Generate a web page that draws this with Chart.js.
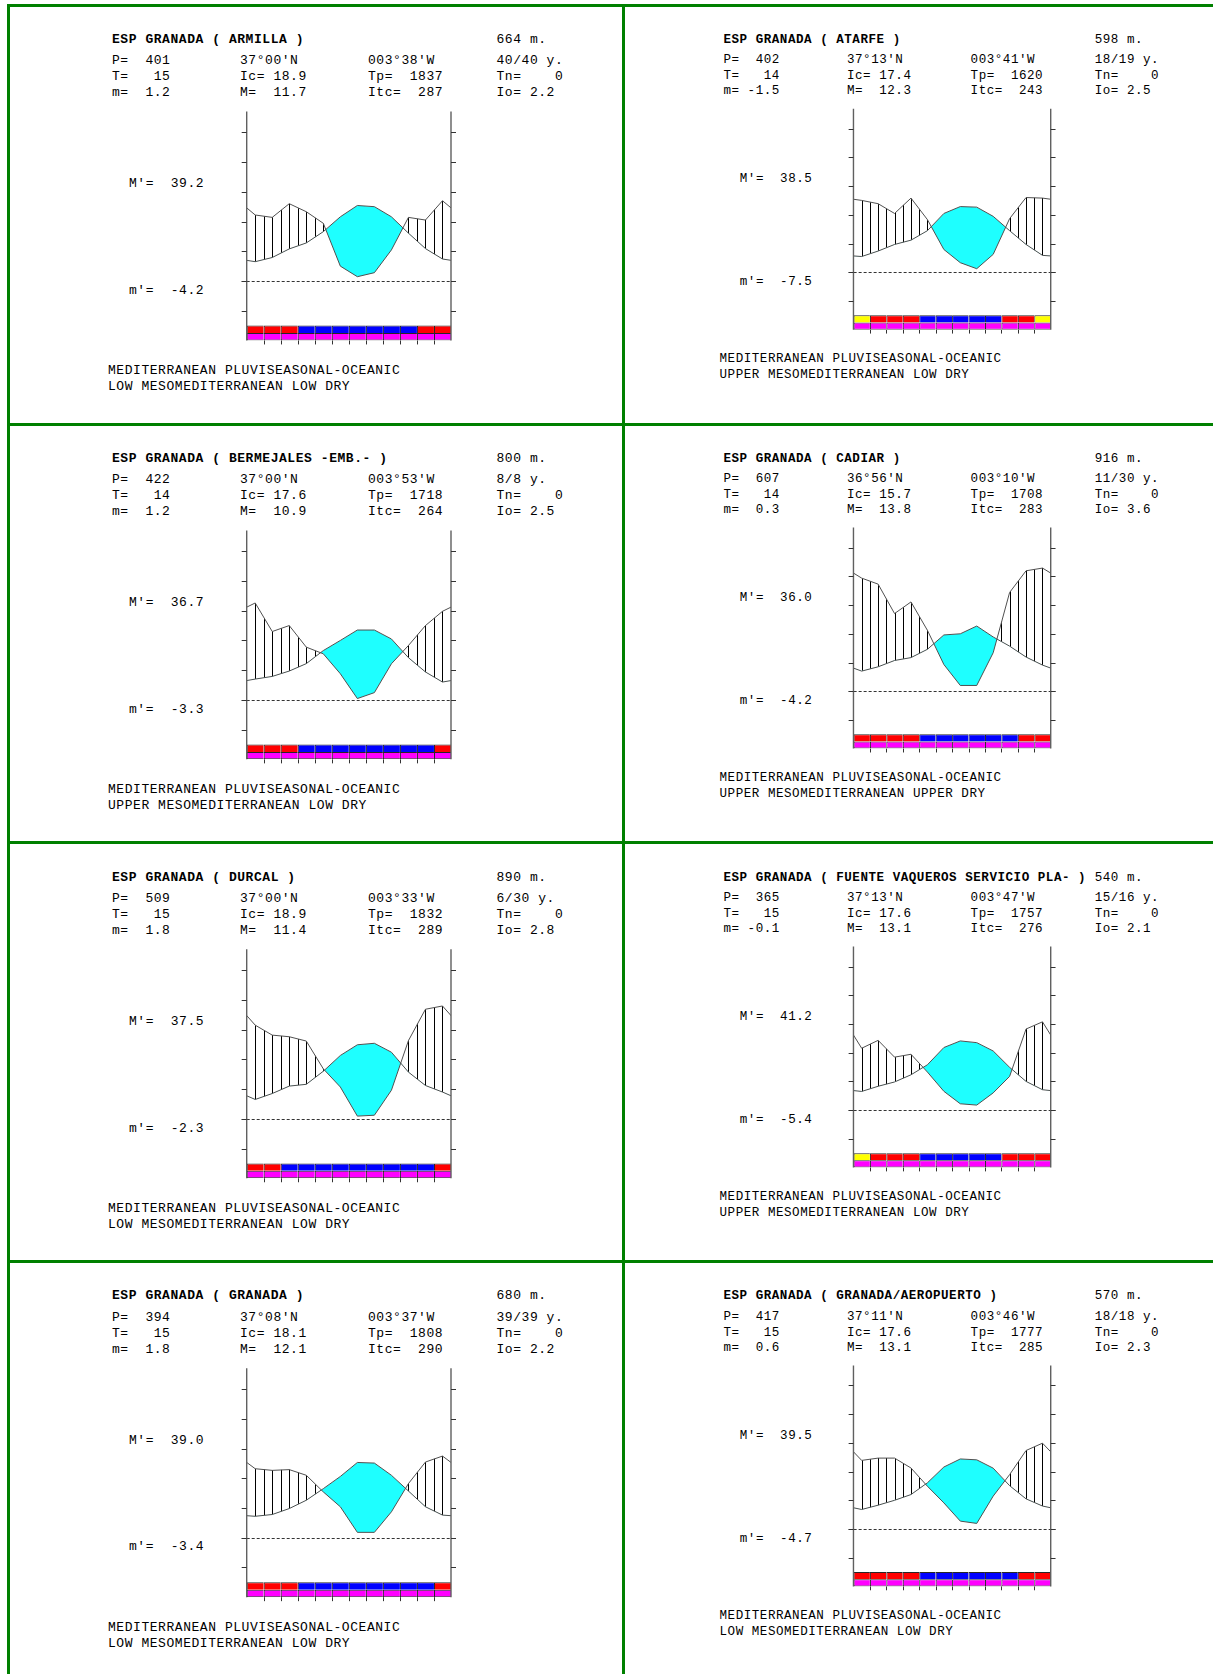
<!DOCTYPE html>
<html>
<head>
<meta charset="utf-8">
<title>Bioclimatic diagrams – Granada</title>
<script src="https://cdn.jsdelivr.net/npm/chart.js@4.4.1/dist/chart.umd.min.js"></script>
<style>
  html, body { margin: 0; padding: 0; background: #fff; }
  body { width: 1213px; height: 1674px; position: relative; overflow: hidden; }
  .rule { position: absolute; background: #008000; }
  .txt { position: absolute; font-family: "Liberation Mono", "DejaVu Sans Mono", monospace; color: #000; white-space: pre; }
  canvas { position: absolute; }
</style>
</head>
<body>
<script>
// ---- Station data ----------------------------------------------------------
const months = ['Jan', 'Feb', 'Mar', 'Apr', 'May', 'Jun', 'Jul', 'Aug', 'Sep', 'Oct', 'Nov', 'Dec'];

const stationNames = ['ARMILLA', 'ATARFE', 'BERMEJALES -EMB.-', 'CADIAR', 'DURCAL',
  'FUENTE VAQUEROS SERVICIO PLA-', 'GRANADA', 'GRANADA/AEROPUERTO'];
const altitudes  = ['664 m.', '598 m.', '800 m.', '916 m.', '890 m.', '540 m.', '680 m.', '570 m.'];
const latitudes  = ["37°00'N", "37°13'N", "37°00'N", "36°56'N", "37°00'N", "37°13'N", "37°08'N", "37°11'N"];
const longitudes = ["003°38'W", "003°41'W", "003°53'W", "003°10'W", "003°33'W", "003°47'W", "003°37'W", "003°46'W"];
const yearSpans  = ['40/40 y.', '18/19 y.', '8/8 y.', '11/30 y.', '6/30 y.', '15/16 y.', '39/39 y.', '18/18 y.'];
const annualP    = ['401', '402', '422', '607', '509', '365', '394', '417'];
const annualT    = ['15', '14', '14', '14', '15', '15', '15', '15'];
const coldMin    = ['1.2', '-1.5', '1.2', '0.3', '1.8', '-0.1', '1.8', '0.6'];      // m
const coldMax    = ['11.7', '12.3', '10.9', '13.8', '11.4', '13.1', '12.1', '13.1'];  // M
const contIdx    = ['18.9', '17.4', '17.6', '15.7', '18.9', '17.6', '18.1', '17.6'];  // Ic
const posTemp    = ['1837', '1620', '1718', '1708', '1832', '1757', '1808', '1777'];  // Tp
const thermIdx   = ['287', '243', '264', '283', '289', '276', '290', '285'];          // Itc
const negTemp    = ['0', '0', '0', '0', '0', '0', '0', '0'];                          // Tn
const ombroIdx   = ['2.2', '2.5', '2.5', '3.6', '2.8', '2.1', '2.2', '2.3'];          // Io
const absMax     = ['39.2', '38.5', '36.7', '36.0', '37.5', '41.2', '39.0', '39.5'];  // M'
const absMin     = ['-4.2', '-7.5', '-3.3', '-4.2', '-2.3', '-5.4', '-3.4', '-4.7'];  // m'
const bioclimate = ['MEDITERRANEAN PLUVISEASONAL-OCEANIC', 'MEDITERRANEAN PLUVISEASONAL-OCEANIC',
  'MEDITERRANEAN PLUVISEASONAL-OCEANIC', 'MEDITERRANEAN PLUVISEASONAL-OCEANIC',
  'MEDITERRANEAN PLUVISEASONAL-OCEANIC', 'MEDITERRANEAN PLUVISEASONAL-OCEANIC',
  'MEDITERRANEAN PLUVISEASONAL-OCEANIC', 'MEDITERRANEAN PLUVISEASONAL-OCEANIC'];
const belts = ['LOW MESOMEDITERRANEAN LOW DRY', 'UPPER MESOMEDITERRANEAN LOW DRY',
  'UPPER MESOMEDITERRANEAN LOW DRY', 'UPPER MESOMEDITERRANEAN UPPER DRY',
  'LOW MESOMEDITERRANEAN LOW DRY', 'UPPER MESOMEDITERRANEAN LOW DRY',
  'LOW MESOMEDITERRANEAN LOW DRY', 'LOW MESOMEDITERRANEAN LOW DRY'];

// Monthly mean temperature (°C), January..December
const tempArmilla    = [6.5, 7.9, 10.8, 12.8, 16.6, 21.6, 25.4, 25.0, 21.6, 16.1, 10.9, 7.4];
const tempAtarfe     = [5.5, 7.4, 9.7, 11.2, 14.5, 20.5, 22.9, 22.7, 19.5, 14.5, 9.7, 5.9];
const tempBermejales = [7.0, 7.9, 9.7, 12.2, 16.6, 20.0, 23.5, 23.5, 20.5, 14.2, 9.4, 6.0];
const tempCadiar     = [7.0, 8.5, 10.7, 11.7, 14.6, 19.6, 20.0, 22.7, 18.9, 15.7, 11.9, 9.1];
const tempDurcal     = [6.5, 8.5, 11.0, 11.6, 16.0, 21.3, 24.9, 25.4, 22.4, 15.7, 11.2, 9.0];
const tempFuente     = [6.5, 8.3, 9.8, 12.3, 15.8, 21.8, 24.1, 23.5, 20.6, 14.9, 10.0, 7.1];
const tempGranada    = [7.2, 7.8, 9.8, 12.6, 16.5, 20.6, 25.3, 25.1, 21.0, 15.7, 10.4, 7.6];
const tempAeropuerto = [6.8, 8.3, 10.0, 12.0, 16.1, 21.6, 24.4, 24.1, 21.2, 15.1, 10.5, 8.0];

// Monthly precipitation (mm), January..December
const precArmilla    = [44.4, 42.8, 52.0, 46.6, 38.8, 10.0, 2.9, 5.6, 20.9, 42.8, 41.0, 54.0];
const precAtarfe     = [50.1, 47.8, 41.0, 51.7, 36.7, 15.9, 6.7, 2.5, 12.5, 37.4, 52.1, 51.7];
const precBermejales = [65.2, 46.0, 50.0, 35.5, 31.0, 17.6, 0.9, 4.9, 24.3, 36.6, 50.0, 59.6];
const precCadiar     = [78.8, 74.6, 54.1, 62.2, 42.4, 18.6, 4.0, 4.0, 26.8, 68.8, 83.9, 85.8];
const precDurcal     = [63.0, 56.3, 55.2, 52.3, 33.6, 21.4, 1.8, 2.4, 19.2, 52.6, 73.7, 75.9];
const precFuente     = [43.1, 48.6, 36.9, 38.9, 26.5, 13.1, 4.4, 3.5, 12.0, 23.5, 56.5, 61.5];
const precGranada    = [46.4, 45.3, 45.8, 42.0, 30.8, 20.8, 3.6, 3.6, 17.4, 36.4, 50.9, 54.9];
const precAeropuerto = [47.8, 49.4, 49.4, 42.5, 29.8, 18.2, 5.5, 3.9, 22.9, 37.9, 54.7, 59.8];

// Frost strip, one code per month (R red, B blue, Y yellow)
const frostArmilla    = ['R', 'R', 'R', 'B', 'B', 'B', 'B', 'B', 'B', 'B', 'R', 'R'];
const frostAtarfe     = ['Y', 'R', 'R', 'R', 'B', 'B', 'B', 'B', 'B', 'R', 'R', 'Y'];
const frostBermejales = ['R', 'R', 'R', 'B', 'B', 'B', 'B', 'B', 'B', 'B', 'B', 'R'];
const frostCadiar     = ['R', 'R', 'R', 'R', 'B', 'B', 'B', 'B', 'B', 'B', 'R', 'R'];
const frostDurcal     = ['R', 'R', 'B', 'B', 'B', 'B', 'B', 'B', 'B', 'B', 'B', 'R'];
const frostFuente     = ['Y', 'R', 'R', 'R', 'B', 'B', 'B', 'B', 'B', 'R', 'R', 'R'];
const frostGranada    = ['R', 'R', 'R', 'B', 'B', 'B', 'B', 'B', 'B', 'B', 'B', 'R'];
const frostAeropuerto = ['R', 'R', 'R', 'R', 'B', 'B', 'B', 'B', 'B', 'B', 'R', 'R'];

// ---- Assembly ----------------------------------------------------------------
const temps = [tempArmilla, tempAtarfe, tempBermejales, tempCadiar, tempDurcal, tempFuente, tempGranada, tempAeropuerto];
const precs = [precArmilla, precAtarfe, precBermejales, precCadiar, precDurcal, precFuente, precGranada, precAeropuerto];
const frosts = [frostArmilla, frostAtarfe, frostBermejales, frostCadiar, frostDurcal, frostFuente, frostGranada, frostAeropuerto];

const STRIP_COLORS = { R: '#ff0000', B: '#0000ff', Y: '#ffff00' };
const HUMID_FILL = '#1effff';
const CURVE = '#505050';

// Layout of one cell (left column units); right column is drawn slightly smaller
const ROW_PITCH = 418.9;
const AX_L = 246.7, AX_R = 451.0, ZERO_Y = 281.0, PX_PER_DEG = 2.973;
const T_MAX = 57, T_MIN = -20;          // vertical range of the plot, °C
const STRIP_TOP = -15, STRIP_MID = -17.5;

function cellFrame(i) {
  const col = i % 2, row = Math.floor(i / 2);
  const s = col ? 0.9655 : 1;
  const ox = col ? 623 : 8;
  const oy = (col ? 1 : 0) + ROW_PITCH * row;
  return { s, X: x => ox + s * (x - 8), Y: y => oy + s * y, TY: y => oy + (col ? 1.2 : 0) + s * y };
}

function addRule(x, y, w, h) {
  const d = document.createElement('div');
  d.className = 'rule';
  Object.assign(d.style, { left: x + 'px', top: y + 'px', width: w + 'px', height: h + 'px' });
  document.body.appendChild(d);
}

function addText(str, x, yc, size, bold) {
  const d = document.createElement('div');
  d.className = 'txt';
  d.textContent = str;
  d.style.left = x + 'px';
  d.style.top = (yc - 0.437 * size) + 'px';
  d.style.fontSize = size + 'px';
  d.style.lineHeight = size + 'px';
  d.style.letterSpacing = (0.0423 * size) + 'px';
  if (bold) d.style.fontWeight = 'bold';
  document.body.appendChild(d);
}

// Hatching of the humid period, tick marks, frame and the 0 °C line
const climogramPlugin = {
  id: 'climogram',
  beforeDatasetsDraw(chart) {
    const { ctx, chartArea: a, scales: { x } } = chart;
    const t = chart.getDatasetMeta(0).data;
    const p = chart.getDatasetMeta(1).data;
    ctx.save();
    ctx.beginPath();
    ctx.rect(a.left, a.top, a.right - a.left, a.bottom - a.top);
    ctx.clip();
    // below the precipitation curve
    ctx.beginPath();
    p.forEach((pt, k) => (k ? ctx.lineTo(pt.x, pt.y) : ctx.moveTo(pt.x, pt.y)));
    ctx.lineTo(p[p.length - 1].x, a.bottom);
    ctx.lineTo(p[0].x, a.bottom);
    ctx.closePath();
    ctx.clip();
    // above the temperature curve
    ctx.beginPath();
    t.forEach((pt, k) => (k ? ctx.lineTo(pt.x, pt.y) : ctx.moveTo(pt.x, pt.y)));
    ctx.lineTo(t[t.length - 1].x, a.top);
    ctx.lineTo(t[0].x, a.top);
    ctx.closePath();
    ctx.clip();
    ctx.strokeStyle = '#000';
    ctx.lineWidth = 1;
    ctx.beginPath();
    for (let k = 1; k < 24; k++) {
      const px = Math.round(x.getPixelForValue(k / 2)) + 0.5;
      ctx.moveTo(px, a.top);
      ctx.lineTo(px, a.bottom);
    }
    ctx.stroke();
    ctx.restore();
  },
  afterDatasetsDraw(chart) {
    const { ctx, chartArea: a, scales: { x, y } } = chart;
    const tl = chart.options.plugins.climogram.tick;
    ctx.save();
    // 0 °C reference line
    const y0 = Math.round(y.getPixelForValue(0)) + 0.5;
    ctx.strokeStyle = '#333';
    ctx.lineWidth = 1;
    ctx.setLineDash([3, 2]);
    ctx.beginPath();
    ctx.moveTo(a.left - tl, y0);
    ctx.lineTo(a.right + tl, y0);
    ctx.stroke();
    ctx.setLineDash([]);
    // side axes and their tick marks
    const xl = x.getPixelForValue(0), xr = x.getPixelForValue(12);
    ctx.strokeStyle = '#606060';
    ctx.lineWidth = 1.4;
    ctx.beginPath();
    ctx.moveTo(xl, a.top); ctx.lineTo(xl, a.bottom);
    ctx.moveTo(xr, a.top); ctx.lineTo(xr, a.bottom);
    ctx.stroke();
    ctx.lineWidth = 1;
    ctx.strokeStyle = '#333';
    ctx.beginPath();
    y.ticks.filter(tk => tk.value >= STRIP_TOP && tk.value <= 50).forEach(tk => {
      const py = Math.round(y.getPixelForValue(tk.value)) + 0.5;
      ctx.moveTo(xl - tl, py); ctx.lineTo(xl, py);
      ctx.moveTo(xr, py); ctx.lineTo(xr + tl, py);
    });
    // month separators below the strip
    x.ticks.filter(tk => tk.value > 0 && tk.value < 12).forEach(tk => {
      const px = Math.round(x.getPixelForValue(tk.value)) + 0.5;
      ctx.moveTo(px, a.bottom); ctx.lineTo(px, a.bottom + tl * 0.8);
    });
    ctx.stroke();
    ctx.restore();
  }
};

// Wrap the annual cycle so the curves run to both frame edges
function cycle(values) {
  return [{ x: -0.5, y: values[11] }]
    .concat(values.map((v, k) => ({ x: k + 0.5, y: v })))
    .concat([{ x: 12.5, y: values[0] }]);
}

function addChart(i) {
  const f = cellFrame(i);
  const L = f.X(AX_L), R = f.X(AX_R);
  const T = f.Y(ZERO_Y - T_MAX * PX_PER_DEG), B = f.Y(ZERO_Y - T_MIN * PX_PER_DEG);
  const cl = Math.floor(L) - 10, ct = Math.floor(T) - 10;
  const cw = Math.ceil(R) + 10 - cl, ch = Math.ceil(B) + 10 - ct;
  const cv = document.createElement('canvas');
  cv.width = cw; cv.height = ch;
  Object.assign(cv.style, { left: cl + 'px', top: ct + 'px', width: cw + 'px', height: ch + 'px' });
  document.body.appendChild(cv);

  const strip = frosts[i];
  new Chart(cv, {
    type: 'line',
    data: {
      datasets: [
        { label: 'Temperature', data: cycle(temps[i]), yAxisID: 'y', borderColor: CURVE, borderWidth: 1,
          pointRadius: 0, tension: 0, fill: false, clip: 0 },
        { label: 'Precipitation', data: cycle(precs[i]), yAxisID: 'yP', borderColor: CURVE, borderWidth: 1,
          pointRadius: 0, tension: 0, clip: 0, backgroundColor: HUMID_FILL,
          fill: { target: 0, above: 'rgba(0,0,0,0)', below: HUMID_FILL } },
        { type: 'bar', label: 'Frost', data: months.map((m, k) => ({ x: k + 0.5, y: [STRIP_MID, STRIP_TOP] })),
          yAxisID: 'y', backgroundColor: strip.map(c => STRIP_COLORS[c]), borderColor: '#262626',
          borderWidth: { top: 1, left: 1, right: 0, bottom: 0 }, borderSkipped: false, grouped: false,
          barPercentage: 1, categoryPercentage: 1, inflateAmount: 0 },
        { type: 'bar', label: 'Frost (lower)', data: months.map((m, k) => ({ x: k + 0.5, y: [T_MIN, STRIP_MID] })),
          yAxisID: 'y', backgroundColor: '#ff00ff', borderColor: '#262626',
          borderWidth: { top: 1, left: 1, right: 0, bottom: 1 }, borderSkipped: false, grouped: false,
          barPercentage: 1, categoryPercentage: 1, inflateAmount: 0 }
      ]
    },
    options: {
      responsive: false,
      animation: false,
      devicePixelRatio: 1,
      events: [],
      layout: { padding: { left: L - cl, top: T - ct, right: cl + cw - R, bottom: ct + ch - B } },
      plugins: { legend: { display: false }, tooltip: { enabled: false }, climogram: { tick: 5 * f.s } },
      scales: {
        x: { type: 'linear', min: 0, max: 12, offset: false, display: false, ticks: { stepSize: 1 } },
        y: { type: 'linear', min: T_MIN, max: T_MAX, display: false, ticks: { stepSize: 5 } },
        yP: { type: 'linear', min: 2 * T_MIN, max: 2 * T_MAX, display: false }
      }
    },
    plugins: [climogramPlugin]
  });
}

function addHeader(i) {
  const f = cellFrame(i);
  const fs = 13 * f.s;
  const c4 = 496.5;
  addText('ESP GRANADA ( ' + stationNames[i] + ' )', f.X(112), f.TY(38.4), fs, true);
  addText(altitudes[i], f.X(c4), f.TY(38.4), fs);
  const r1 = 59.8, r2 = 75.8, r3 = 91.8;
  addText('P=  ' + annualP[i], f.X(112), f.TY(r1), fs);
  addText('T=   ' + annualT[i], f.X(112), f.TY(r2), fs);
  addText('m= ' + (coldMin[i].startsWith('-') ? '' : ' ') + coldMin[i], f.X(112), f.TY(r3), fs);
  addText(latitudes[i], f.X(240), f.TY(r1), fs);
  addText('Ic= ' + contIdx[i], f.X(240), f.TY(r2), fs);
  addText('M=  ' + coldMax[i], f.X(240), f.TY(r3), fs);
  addText(longitudes[i], f.X(368), f.TY(r1), fs);
  addText('Tp=  ' + posTemp[i], f.X(368), f.TY(r2), fs);
  addText('Itc=  ' + thermIdx[i], f.X(368), f.TY(r3), fs);
  addText(yearSpans[i], f.X(c4), f.TY(r1), fs);
  addText('Tn=    ' + negTemp[i], f.X(c4), f.TY(r2), fs);
  addText('Io= ' + ombroIdx[i], f.X(c4), f.TY(r3), fs);
  addText("M'=  " + absMax[i], f.X(129), f.TY(182.6), fs);
  addText("m'=  " + absMin[i], f.X(129), f.TY(289.4), fs);
  addText(bioclimate[i], f.X(108), f.TY(369.5), fs);
  addText(belts[i], f.X(108), f.TY(385.5), fs);
}

// Green grid of the sheet
for (let r = 0; r < 4; r++) addRule(7, Math.round(4 + 418.6 * r), 1213 - 7, 3);
addRule(7, 4, 3, 1674);
addRule(622, 4, 3, 1674);

for (let i = 0; i < 8; i++) {
  addHeader(i);
  addChart(i);
}
</script>
</body>
</html>
